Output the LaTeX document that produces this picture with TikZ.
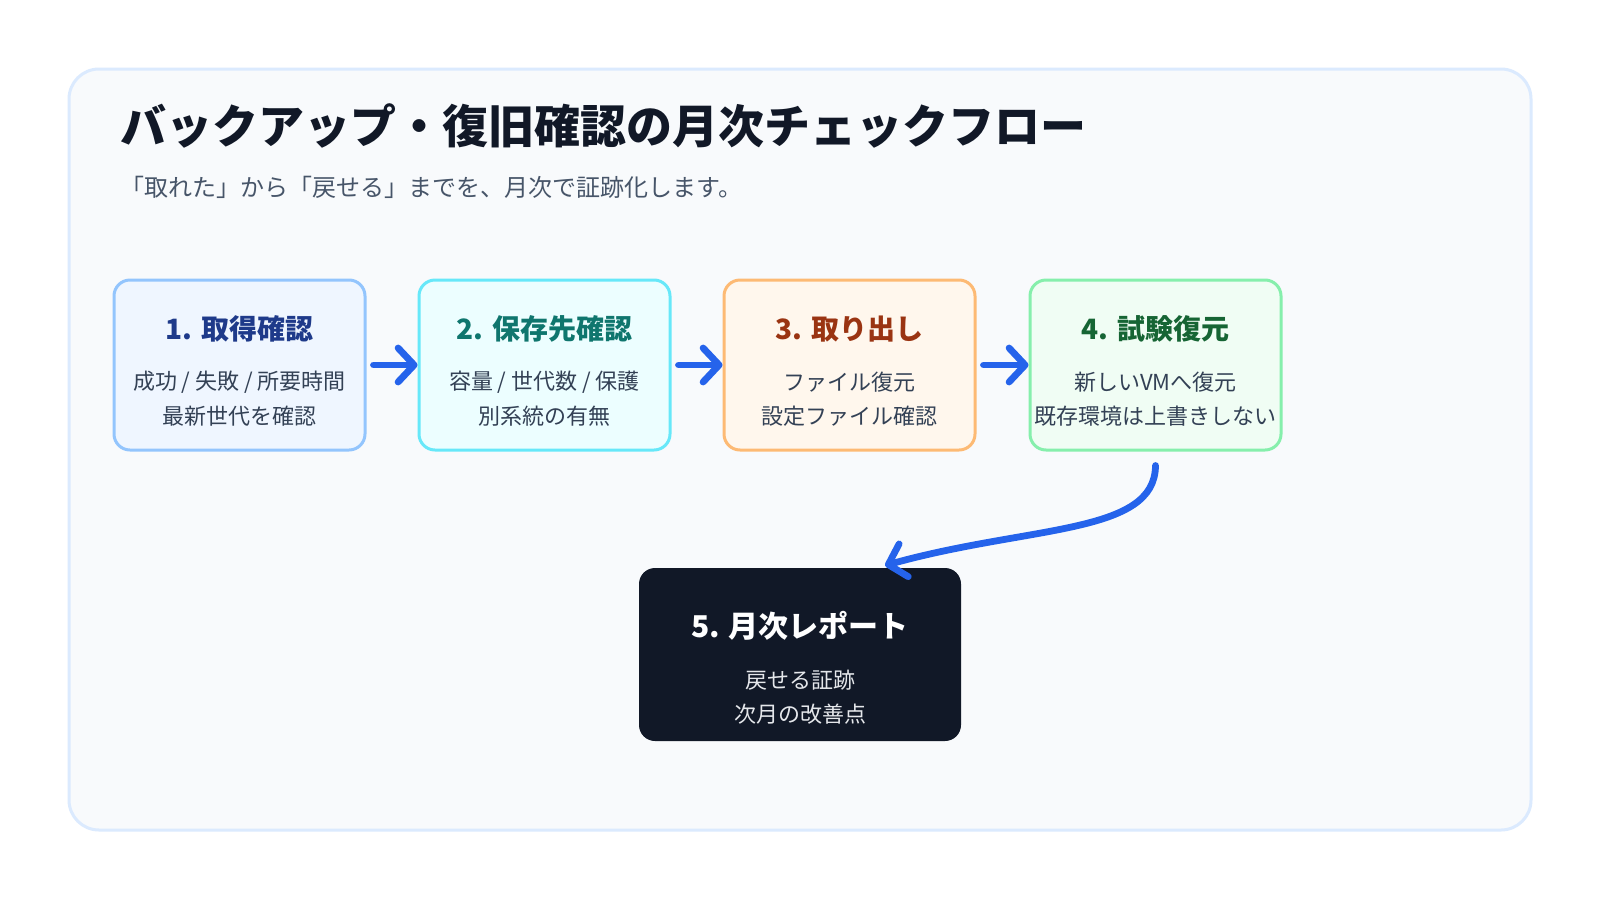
\documentclass[tikz,border=0pt]{standalone}
\usepackage{fontspec}
\setmainfont{Noto Sans CJK JP}
\usetikzlibrary{arrows.meta}
\definecolor{panelfill}{HTML}{F8FAFC}
\definecolor{panelline}{HTML}{DBEAFE}
\definecolor{titlec}{HTML}{111827}
\definecolor{subc}{HTML}{475569}
\definecolor{bodyc}{HTML}{334155}
\definecolor{fa}{HTML}{EFF6FF}\definecolor{la}{HTML}{93C5FD}\definecolor{ta}{HTML}{1E3A8A}
\definecolor{fb}{HTML}{ECFEFF}\definecolor{lb}{HTML}{67E8F9}\definecolor{tb}{HTML}{0F766E}
\definecolor{fc}{HTML}{FFF7ED}\definecolor{lc}{HTML}{FDBA74}\definecolor{tc}{HTML}{9A3412}
\definecolor{fd}{HTML}{F0FDF4}\definecolor{ld}{HTML}{86EFAC}\definecolor{td}{HTML}{166534}
\definecolor{darkbox}{HTML}{111827}
\definecolor{darkbody}{HTML}{E5E7EB}
\definecolor{arrowc}{HTML}{2563EB}
\tikzset{
  stepbox/.style={draw, line width=1.5pt, rounded corners=8pt, minimum width=125.5pt, minimum height=85pt, inner sep=0pt},
  boxtitle/.style={font=\fontsize{14pt}{16pt}\selectfont\bfseries, inner sep=0pt},
  boxbody/.style={font=\fontsize{11pt}{13pt}\selectfont, text=bodyc, inner sep=0pt},
  flowarrow/.style={draw=arrowc, line width=3.4pt, line cap=round, -{Straight Barb[length=8pt,width=17pt,round]}},
}
\begin{document}
\begin{tikzpicture}[x=0.5pt,y=-0.5pt]
\useasboundingbox (0,0) rectangle (1600,900);
\fill[white] (0,0) rectangle (1600,900);
\draw[draw=panelline, fill=panelfill, line width=1.5pt, rounded corners=15pt] (69,69) rectangle (1531,830);

\node[anchor=base west, inner sep=0pt, text=titlec, font=\fontsize{23pt}{26pt}\selectfont\bfseries] (title) at (120,143) {バックアップ・復旧確認の月次チェックフロー};
\node[anchor=base west, inner sep=0pt, text=subc, font=\fontsize{12pt}{14pt}\selectfont] (sub) at (120,196) {「取れた」から「戻せる」までを、月次で証跡化します。};

% boxes
\node[stepbox, draw=la, fill=fa] (b1) at (239.5,365) {};
\node[stepbox, draw=lb, fill=fb] (b2) at (544.5,365) {};
\node[stepbox, draw=lc, fill=fc] (b3) at (849.5,365) {};
\node[stepbox, draw=ld, fill=fd] (b4) at (1155.5,365) {};
\node[stepbox, draw=none, fill=darkbox, minimum width=161pt, minimum height=86.5pt] (b5) at (800,654.5) {};

\node[boxtitle, text=ta] (b1t) at (239.5,329) {1. 取得確認};
\node[boxbody] (b1a) at (239.5,382) {成功 / 失敗 / 所要時間};
\node[boxbody] (b1b) at (239.5,416) {最新世代を確認};

\node[boxtitle, text=tb] (b2t) at (544.5,329) {2. 保存先確認};
\node[boxbody] (b2a) at (544.5,382) {容量 / 世代数 / 保護};
\node[boxbody] (b2b) at (544.5,416) {別系統の有無};

\node[boxtitle, text=tc] (b3t) at (849.5,329) {3. 取り出し};
\node[boxbody] (b3a) at (849.5,382) {ファイル復元};
\node[boxbody] (b3b) at (849.5,416) {設定ファイル確認};

\node[boxtitle, text=td] (b4t) at (1155.5,329) {4. 試験復元};
\node[boxbody] (b4a) at (1155.5,382) {新しいVMへ復元};
\node[boxbody] (b4b) at (1155.5,416) {既存環境は上書きしない};

\node[boxtitle, text=white, font=\fontsize{15pt}{17pt}\selectfont\bfseries] (b5t) at (800,626) {5. 月次レポート};
\node[boxbody, text=darkbody] (b5a) at (800,680) {戻せる証跡};
\node[boxbody, text=darkbody] (b5b) at (800,714) {次月の改善点};

% connectors
\draw[flowarrow, shorten <=3.5pt] (b1.east) -- (b2.west);
\draw[flowarrow, shorten <=3.5pt] (b2.east) -- (b3.west);
\draw[flowarrow, shorten <=3.5pt] (b3.east) -- (b4.west);
\coordinate (b5in) at ([xshift=42.5pt,yshift=0.5pt]b5.north);
\coordinate (b4out) at ([yshift=-7pt]b4.south);
\draw[flowarrow] (b4out) .. controls (1155,535) and (1030,525) .. (b5in);
\end{tikzpicture}
\end{document}
